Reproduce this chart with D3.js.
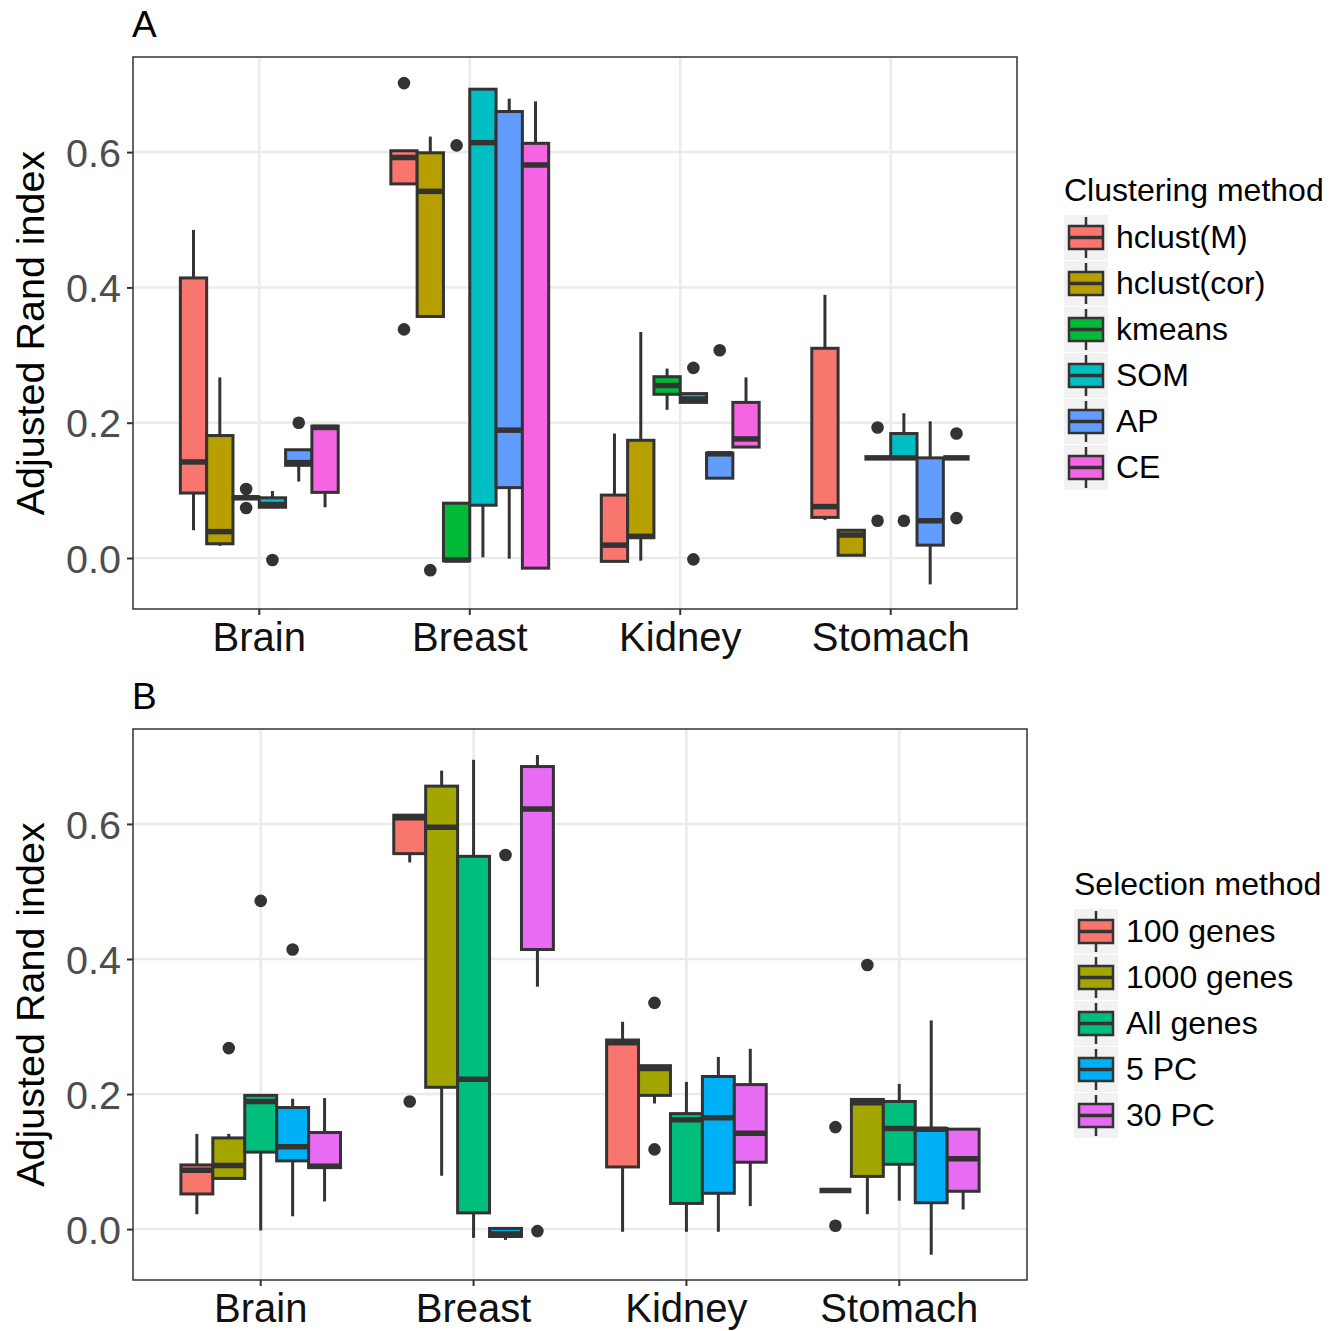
<!DOCTYPE html>
<html>
<head>
<meta charset="utf-8">
<script src="https://cdn.jsdelivr.net/npm/d3@7"></script>
<style>
  body { margin: 0; background: #fff; }
  svg text { font-family: "Liberation Sans", Arial, Helvetica, sans-serif; }
</style>
</head>
<body>
<script>
// categories
const tissues = ["Brain", "Breast", "Kidney", "Stomach"];
const yTicks = [0, 0.2, 0.4, 0.6];

// panel A: clustering methods, each tissue = [min, q1, median, q3, max]
const clusterMethods = ["hclust(M)", "hclust(cor)", "kmeans", "SOM", "AP", "CE"];
const clusterColors = ["#F8766D", "#B79F00", "#00BA38", "#00BFC4", "#619CFF", "#F564E3"];
const a_hclustM = [[0.041, 0.096, 0.142, 0.414, 0.485], [0.553, 0.553, 0.592, 0.602, 0.602], [-0.005, -0.005, 0.019, 0.093, 0.184], [0.056, 0.060, 0.076, 0.310, 0.389]];
const a_hclustCor = [[0.018, 0.021, 0.039, 0.181, 0.267], [0.357, 0.357, 0.542, 0.599, 0.623], [-0.004, 0.030, 0.032, 0.174, 0.334], [0.004, 0.004, 0.034, 0.041, 0.041]];
const a_kmeans = [[0.088, 0.088, 0.089, 0.090, 0.090], [-0.004, -0.004, -0.003, 0.081, 0.081], [0.219, 0.242, 0.255, 0.268, 0.280], [0.148, 0.148, 0.148, 0.148, 0.148]];
const a_som = [[0.075, 0.075, 0.079, 0.089, 0.099], [0.001, 0.078, 0.614, 0.693, 0.693], [0.230, 0.230, 0.235, 0.243, 0.243], [0.148, 0.148, 0.148, 0.184, 0.214]];
const a_ap = [[0.113, 0.137, 0.141, 0.160, 0.160], [-0.001, 0.104, 0.189, 0.660, 0.679], [0.118, 0.118, 0.154, 0.155, 0.155], [-0.039, 0.019, 0.055, 0.148, 0.202]];
const a_ce = [[0.075, 0.097, 0.193, 0.195, 0.195], [-0.015, -0.015, 0.581, 0.613, 0.675], [0.164, 0.164, 0.176, 0.230, 0.267], [0.148, 0.148, 0.148, 0.148, 0.148]];
// outliers per tissue
const a_hclustM_out = [[], [0.702, 0.338], [], []];
const a_hclustCor_out = [[], [-0.018], [], []];
const a_kmeans_out = [[0.102, 0.074], [0.610], [], [0.193, 0.055]];
const a_som_out = [[-0.003], [], [0.281, -0.002], [0.055]];
const a_ap_out = [[0.200], [], [0.307], []];
const a_ce_out = [[], [], [], [0.184, 0.059]];

// panel B: selection methods
const selectMethods = ["100 genes", "1000 genes", "All genes", "5 PC", "30 PC"];
const selectColors = ["#F8766D", "#A3A500", "#00BF7D", "#00B0F6", "#E76BF3"];
const b_g100 = [[0.022, 0.052, 0.087, 0.095, 0.141], [0.543, 0.556, 0.609, 0.613, 0.613], [-0.004, 0.092, 0.276, 0.280, 0.307], [0.057, 0.057, 0.057, 0.057, 0.057]];
const b_g1000 = [[0.075, 0.075, 0.094, 0.135, 0.141], [0.079, 0.210, 0.595, 0.656, 0.679], [0.186, 0.198, 0.238, 0.242, 0.242], [0.022, 0.078, 0.187, 0.192, 0.192]];
const b_all = [[-0.002, 0.114, 0.189, 0.198, 0.198], [-0.013, 0.024, 0.222, 0.552, 0.695], [-0.004, 0.038, 0.162, 0.171, 0.218], [0.042, 0.096, 0.149, 0.189, 0.215]];
const b_pc5 = [[0.019, 0.101, 0.122, 0.180, 0.193], [-0.016, -0.011, -0.007, 0.001, 0.001], [-0.004, 0.053, 0.165, 0.226, 0.255], [-0.038, 0.039, 0.148, 0.149, 0.309]];
const b_pc30 = [[0.041, 0.091, 0.093, 0.143, 0.194], [0.359, 0.414, 0.622, 0.685, 0.702], [0.034, 0.099, 0.142, 0.214, 0.267], [0.029, 0.056, 0.104, 0.148, 0.148]];
const b_g100_out = [[], [0.189], [], [0.151, 0.005]];
const b_g1000_out = [[0.268], [], [0.335, 0.118], [0.391]];
const b_all_out = [[0.486], [], [], []];
const b_pc5_out = [[0.414], [0.554], [], []];
const b_pc30_out = [[], [-0.003], [], []];

const svg = d3.select("body").append("svg")
    .attr("width", 1340)
    .attr("height", 1331);

drawPanel({
    label: "A", left: 133, top: 57, width: 884, height: 552,
    methods: clusterMethods, colors: clusterColors,
    stats: [a_hclustM, a_hclustCor, a_kmeans, a_som, a_ap, a_ce],
    outs: [a_hclustM_out, a_hclustCor_out, a_kmeans_out, a_som_out, a_ap_out, a_ce_out],
    legendTitle: "Clustering method", legendX: 1064, legendY: 201
});

drawPanel({
    label: "B", left: 133, top: 729, width: 894, height: 551,
    methods: selectMethods, colors: selectColors,
    stats: [b_g100, b_g1000, b_all, b_pc5, b_pc30],
    outs: [b_g100_out, b_g1000_out, b_all_out, b_pc5_out, b_pc30_out],
    legendTitle: "Selection method", legendX: 1074, legendY: 895
});

function drawPanel(p) {
    var dark = "#333333";

    // scales, ggplot style discrete expansion
    var x = d3.scaleBand().domain(tissues).range([0, p.width]).paddingInner(0).paddingOuter(0.1);
    var step = x.bandwidth();
    var xm = d3.scaleBand().domain(p.methods).range([step * 0.125, step * 0.875]);
    var y = d3.scaleLinear().domain([-0.0754, 0.7406]).range([p.height, 0]);

    var g = svg.append("g").attr("transform", "translate(" + p.left + "," + p.top + ")");

    // panel label
    svg.append("text")
        .attr("x", p.left - 1).attr("y", p.top - 20)
        .style("font-size", "37px").attr("fill", "#000")
        .text(p.label);

    // grid
    g.selectAll(".hgrid").data(yTicks).enter().append("line")
        .attr("x1", 0).attr("x2", p.width)
        .attr("y1", d => y(d)).attr("y2", d => y(d))
        .attr("stroke", "#EBEBEB").attr("stroke-width", 2.5);
    g.selectAll(".vgrid").data(tissues).enter().append("line")
        .attr("x1", d => x(d) + step / 2).attr("x2", d => x(d) + step / 2)
        .attr("y1", 0).attr("y2", p.height)
        .attr("stroke", "#EBEBEB").attr("stroke-width", 2.5);

    // boxes
    p.methods.forEach(function(m, mi) {
        tissues.forEach(function(t, ti) {
            var s = p.stats[mi][ti];
            var bx = x(t) + xm(m);
            var bw = xm.bandwidth();
            var cx = bx + bw / 2;
            var box = g.append("g");
            box.append("line")
                .attr("x1", cx).attr("x2", cx)
                .attr("y1", y(s[4])).attr("y2", y(s[3]))
                .attr("stroke", dark).attr("stroke-width", 3);
            box.append("line")
                .attr("x1", cx).attr("x2", cx)
                .attr("y1", y(s[1])).attr("y2", y(s[0]))
                .attr("stroke", dark).attr("stroke-width", 3);
            box.append("rect")
                .attr("x", bx).attr("width", bw)
                .attr("y", y(s[3])).attr("height", Math.max(0, y(s[1]) - y(s[3])))
                .attr("fill", p.colors[mi])
                .attr("stroke", dark).attr("stroke-width", 3);
            box.append("line")
                .attr("x1", bx).attr("x2", bx + bw)
                .attr("y1", y(s[2])).attr("y2", y(s[2]))
                .attr("stroke", dark).attr("stroke-width", 5.5);
            box.selectAll("circle").data(p.outs[mi][ti]).enter().append("circle")
                .attr("cx", cx).attr("cy", d => y(d)).attr("r", 6.3)
                .attr("fill", dark);
        });
    });

    // border
    g.append("rect")
        .attr("width", p.width).attr("height", p.height)
        .attr("fill", "none").attr("stroke", dark).attr("stroke-width", 1.5);

    // axes
    var yAxis = g.append("g")
        .call(d3.axisLeft(y).tickValues(yTicks).tickFormat(d3.format(".1f")).tickSize(6).tickPadding(6));
    yAxis.select(".domain").remove();
    yAxis.selectAll("line").attr("stroke", dark).attr("stroke-width", 2);
    yAxis.selectAll("text").style("font-size", "39.5px").attr("fill", "#4D4D4D").attr("dy", "0.36em");

    var xAxis = g.append("g")
        .attr("transform", "translate(0," + p.height + ")")
        .call(d3.axisBottom(x).tickSize(6).tickPadding(8));
    xAxis.select(".domain").remove();
    xAxis.selectAll("line").attr("stroke", dark).attr("stroke-width", 2);
    xAxis.selectAll("text").style("font-size", "40px").attr("fill", "#111");

    svg.append("text")
        .attr("transform", "translate(44," + (p.top + p.height / 2) + ") rotate(-90)")
        .attr("text-anchor", "middle")
        .style("font-size", "39.5px").attr("fill", "#000")
        .text("Adjusted Rand index");

    // legend
    var lg = svg.append("g").attr("transform", "translate(" + p.legendX + "," + p.legendY + ")");
    lg.append("text").attr("x", 0).attr("y", 0)
        .style("font-size", "32px").attr("fill", "#000")
        .text(p.legendTitle);
    p.methods.forEach(function(m, i) {
        var ky = 14 + i * 46;
        var k = lg.append("g").attr("transform", "translate(0," + ky + ")");
        k.append("rect").attr("width", 44).attr("height", 45).attr("fill", "#F2F2F2");
        k.append("line").attr("x1", 22).attr("x2", 22).attr("y1", 2).attr("y2", 43)
            .attr("stroke", dark).attr("stroke-width", 2.5);
        k.append("rect").attr("x", 5).attr("y", 11).attr("width", 34).attr("height", 23)
            .attr("fill", p.colors[i]).attr("stroke", dark).attr("stroke-width", 2.5);
        k.append("line").attr("x1", 5).attr("x2", 39).attr("y1", 22.5).attr("y2", 22.5)
            .attr("stroke", dark).attr("stroke-width", 3.5);
        k.append("text").attr("x", 52).attr("y", 33)
            .style("font-size", "32px").attr("fill", "#000")
            .text(m);
    });
}
</script>
</body>
</html>
